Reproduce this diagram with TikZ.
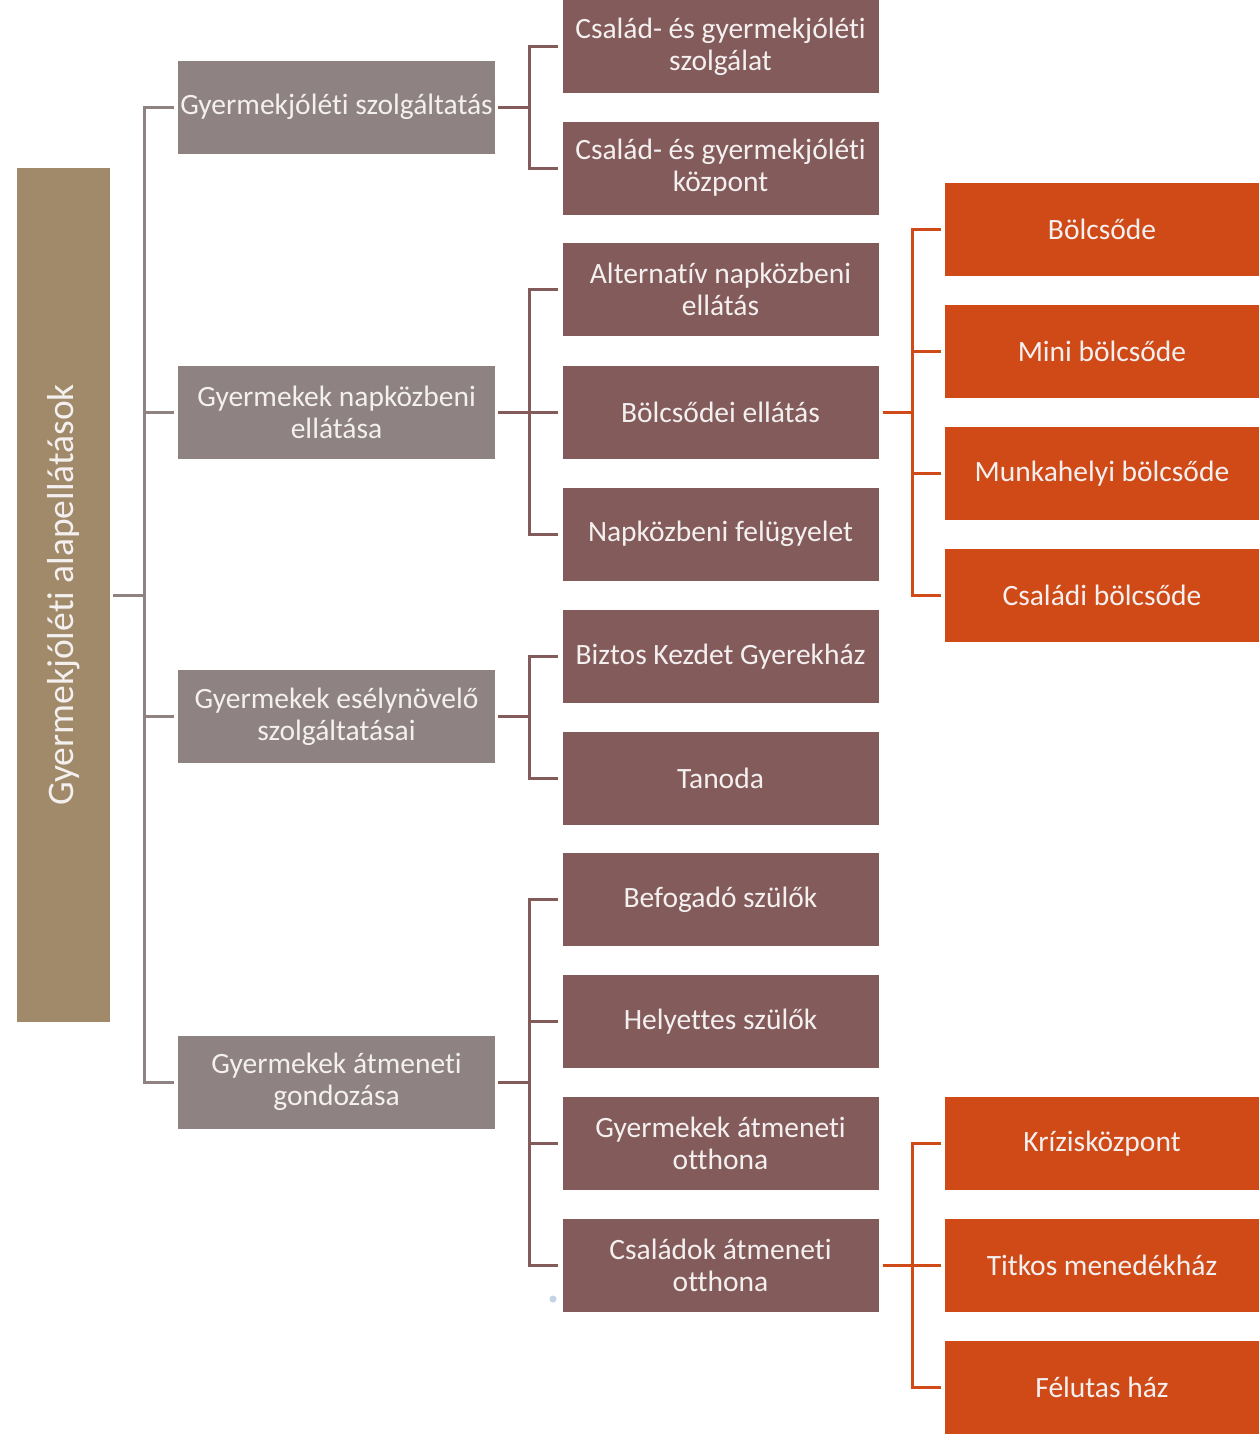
\documentclass[tikz,border=0pt]{standalone}
\usepackage{fontspec}
\setmainfont{Carlito}[Ligatures=NoCommon]
\definecolor{rootc}{HTML}{A08A6A}
\definecolor{lvla}{HTML}{8E8282}
\definecolor{lvlb}{HTML}{845B5B}
\definecolor{lvlc}{HTML}{D04A18}
\definecolor{txt}{HTML}{F4F0F0}
\definecolor{dotc}{HTML}{C5D3E6}
\tikzset{
  base/.style={rectangle, text=txt, align=center, inner sep=1pt,
    font=\fontsize{29.5}{32}\selectfont},
  rootbox/.style={base, fill=rootc, rotate=90, minimum width=854, minimum height=93,
    font=\fontsize{37.5}{42}\selectfont},
  boxa/.style={base, fill=lvla, minimum width=317, minimum height=93},
  boxb/.style={base, fill=lvlb, minimum width=316, minimum height=93},
  boxc/.style={base, fill=lvlc, minimum width=314, minimum height=93},
  cona/.style={draw=lvla, line width=3pt, shorten <=3pt, shorten >=4pt},
  conb/.style={draw=lvlb, line width=3pt, shorten <=3pt, shorten >=4pt},
  conc/.style={draw=lvlc, line width=3pt, shorten <=4pt, shorten >=4pt},
}
\begin{document}
\begin{tikzpicture}[x=1pt, y=-1pt]
\useasboundingbox (0,0) rectangle (1259,1440);
\fill[white] (0,0) rectangle (1259,1440);
% root
\node[rootbox] (root) at (63.5,595) {Gyermekjóléti alapellátások};
% level 1
\node[boxa] (g1) at (336.5,107) {Gyermekjóléti szolgáltatás};
\node[boxa] (g2) at (336.5,412) {Gyermekek napközbeni\\ellátása};
\node[boxa] (g3) at (336.5,716.5) {Gyermekek esélynövelő\\szolgáltatásai};
\node[boxa] (g4) at (336.5,1082) {Gyermekek átmeneti\\gondozása};
% level 2
\node[boxb] (b1) at (720.5,46.5) {Család- és gyermekjóléti\\szolgálat};
\node[boxb] (b2) at (720.5,168) {Család- és gyermekjóléti\\központ};
\node[boxb] (b3) at (720.5,289.5) {Alternatív napközbeni\\ellátás};
\node[boxb] (b4) at (720.5,412) {Bölcsődei ellátás};
\node[boxb] (b5) at (720.5,534) {Napközbeni felügyelet};
\node[boxb] (b6) at (720.5,656.5) {Biztos Kezdet Gyerekház};
\node[boxb] (b7) at (720.5,778) {Tanoda};
\node[boxb] (b8) at (720.5,899.5) {Befogadó szülők};
\node[boxb] (b9) at (720.5,1021.5) {Helyettes szülők};
\node[boxb] (b10) at (720.5,1143.5) {Gyermekek átmeneti\\otthona};
\node[boxb] (b11) at (720.5,1265.5) {Családok átmeneti\\otthona};
% level 3
\node[boxc] (c1) at (1102,229.5) {Bölcsőde};
\node[boxc] (c2) at (1102,351.5) {Mini bölcsőde};
\node[boxc] (c3) at (1102,473.5) {Munkahelyi bölcsőde};
\node[boxc] (c4) at (1102,595) {Családi bölcsőde};
\node[boxc] (c5) at (1102,1143.5) {Krízisközpont};
\node[boxc] (c6) at (1102,1265.5) {Titkos menedékház};
\node[boxc] (c7) at (1102,1387.5) {Félutas ház};
% small dot
\fill[dotc] (553,1299) circle (3.5);
% connectors root -> level 1
\foreach \t in {g1,g2,g3,g4}
  \draw[cona] (root.south) -- ++(34,0) |- (\t.west);
% level 1 -> level 2
\foreach \t in {b1,b2} \draw[conb] (g1.east) -- ++(34,0) |- (\t.west);
\foreach \t in {b3,b4,b5} \draw[conb] (g2.east) -- ++(34,0) |- (\t.west);
\foreach \t in {b6,b7} \draw[conb] (g3.east) -- ++(34,0) |- (\t.west);
\foreach \t in {b8,b9,b10,b11} \draw[conb] (g4.east) -- ++(34,0) |- (\t.west);
% level 2 -> level 3
\foreach \t in {c1,c2,c3,c4} \draw[conc] (b4.east) -- ++(34,0) |- (\t.west);
\foreach \t in {c5,c6,c7} \draw[conc] (b11.east) -- ++(34,0) |- (\t.west);
\end{tikzpicture}
\end{document}
